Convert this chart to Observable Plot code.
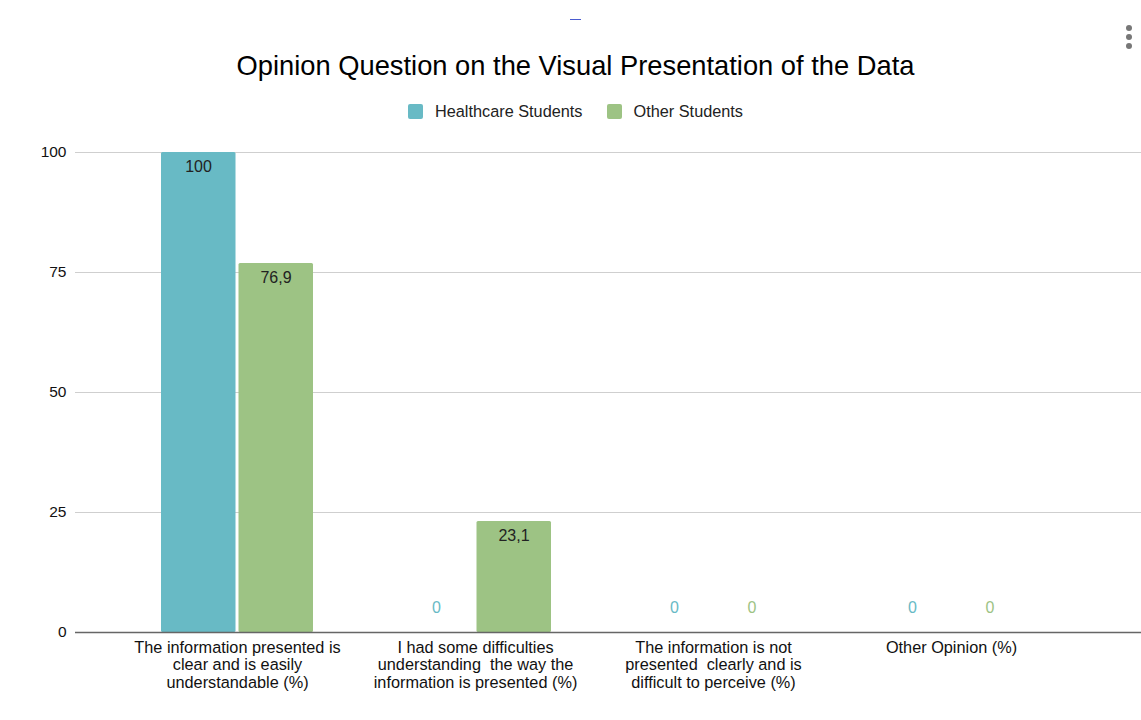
<!DOCTYPE html>
<html>
<head>
<meta charset="utf-8">
<script src="https://cdn.jsdelivr.net/npm/d3@7"></script>
<script src="https://cdn.jsdelivr.net/npm/@observablehq/plot@0.6"></script>
<style>
  html, body { margin: 0; padding: 0; background: #fff; }
  body { font-family: "Liberation Sans", Arial, sans-serif; }
  #wrap { position: relative; width: 1141px; height: 720px; overflow: hidden; background: #fff; }
  #title { position: absolute; left: 0; width: 1151px; top: 50px; line-height: 32px; text-align: center; font-size: 27.3px; color: #000; }
  #legend { position: absolute; left: 0; width: 1151px; top: 101px; height: 20px; display: flex; justify-content: center; align-items: center; font-size: 16.3px; color: #222; }
  .item { display: flex; align-items: center; margin: 0 12px; }
  .sw { width: 15px; height: 15px; border-radius: 2px; margin-right: 12px; }
  #chart { position: absolute; left: 0; top: 130px; }
  .dots { position: absolute; left: 1126px; top: 25px; }
  .dots div { width: 6px; height: 6px; border-radius: 3px; background: #777; margin-bottom: 3px; }
  .dash { position: absolute; left: 570px; top: 19px; width: 11px; height: 1px; background: #4a5bd0; }
</style>
</head>
<body>
<div id="wrap">
  <div class="dash"></div>
  <div class="dots"><div></div><div></div><div></div></div>
  <div id="title">Opinion Question on the Visual Presentation of the Data</div>
  <div id="legend"></div>
  <div id="chart"></div>
</div>
<script>
const categories = [
  "The information presented is\nclear and is easily\nunderstandable (%)",
  "I had some difficulties\nunderstanding  the way the\ninformation is presented (%)",
  "The information is not\npresented  clearly and is\ndifficult to perceive (%)",
  "Other Opinion (%)"
];
const seriesNames = ["Healthcare Students", "Other Students"];
const healthcare = [100, 0, 0, 0];
const other = [76.9, 23.1, 0, 0];
const seriesColors = ["#68bac5", "#9dc384"];
const yTicks = [0, 25, 50, 75, 100];

const rows = [];
categories.forEach((c, i) => {
  rows.push({category: c, series: seriesNames[0], value: healthcare[i]});
  rows.push({category: c, series: seriesNames[1], value: other[i]});
});
const colorOf = s => seriesColors[seriesNames.indexOf(s)];
const fmt = v => String(v).replace(".", ",");

// legend
const legend = document.getElementById("legend");
seriesNames.forEach((s, i) => {
  const it = document.createElement("div");
  it.className = "item";
  const sw = document.createElement("div");
  sw.className = "sw";
  sw.style.background = seriesColors[i];
  const t = document.createElement("span");
  t.textContent = s;
  it.appendChild(sw); it.appendChild(t);
  legend.appendChild(it);
});

const hRows = rows.filter(d => d.series === seriesNames[0]);
const oRows = rows.filter(d => d.series === seriesNames[1]);
const half = 77.5;

const chart = Plot.plot({
  width: 1141,
  height: 580,
  marginLeft: 75,
  marginRight: 0,
  marginTop: 22,
  marginBottom: 78,
  style: {fontFamily: "Liberation Sans, Arial, sans-serif", fontSize: "14px", color: "#222", background: "#fff"},
  x: {type: "band", domain: categories, paddingInner: 0.3627, paddingOuter: 0.3564, insetRight: 28.5, label: null},
  y: {domain: [0, 100], label: null},
  marks: [
    Plot.ruleY(yTicks, {stroke: "#cfcfcf", strokeWidth: 1}),
    Plot.barY(hRows, {x: "category", y: "value", fill: colorOf(seriesNames[0]), insetRight: half, insetLeft: 0, rx: 1.5}),
    Plot.barY(oRows, {x: "category", y: "value", fill: colorOf(seriesNames[1]), insetLeft: half, insetRight: 0, rx: 1.5}),
    Plot.ruleY([0], {stroke: "#666", strokeWidth: 1.5}),
    Plot.text(hRows.filter(d => d.value > 0), {x: "category", y: "value", text: d => fmt(d.value), dx: -39, dy: 14, fill: "#222", fontSize: 16}),
    Plot.text(oRows.filter(d => d.value > 0), {x: "category", y: "value", text: d => fmt(d.value), dx: 38.5, dy: 14, fill: "#222", fontSize: 16}),
    Plot.text(hRows.filter(d => d.value === 0), {x: "category", y: "value", text: d => fmt(d.value), dx: -39, dy: -25, fill: colorOf(seriesNames[0]), fontSize: 16}),
    Plot.text(oRows.filter(d => d.value === 0), {x: "category", y: "value", text: d => fmt(d.value), dx: 38.5, dy: -25, fill: colorOf(seriesNames[1]), fontSize: 16}),
    Plot.axisY({ticks: yTicks, tickSize: 0, tickPadding: 9, fontSize: 15.5, fill: "#111", label: null}),
    Plot.axisX({tickSize: 0, tickPadding: 8, fontSize: 16.3, fill: "#111", lineHeight: 1.07, label: null})
  ]
});
document.getElementById("chart").appendChild(chart);
</script>
</body>
</html>
